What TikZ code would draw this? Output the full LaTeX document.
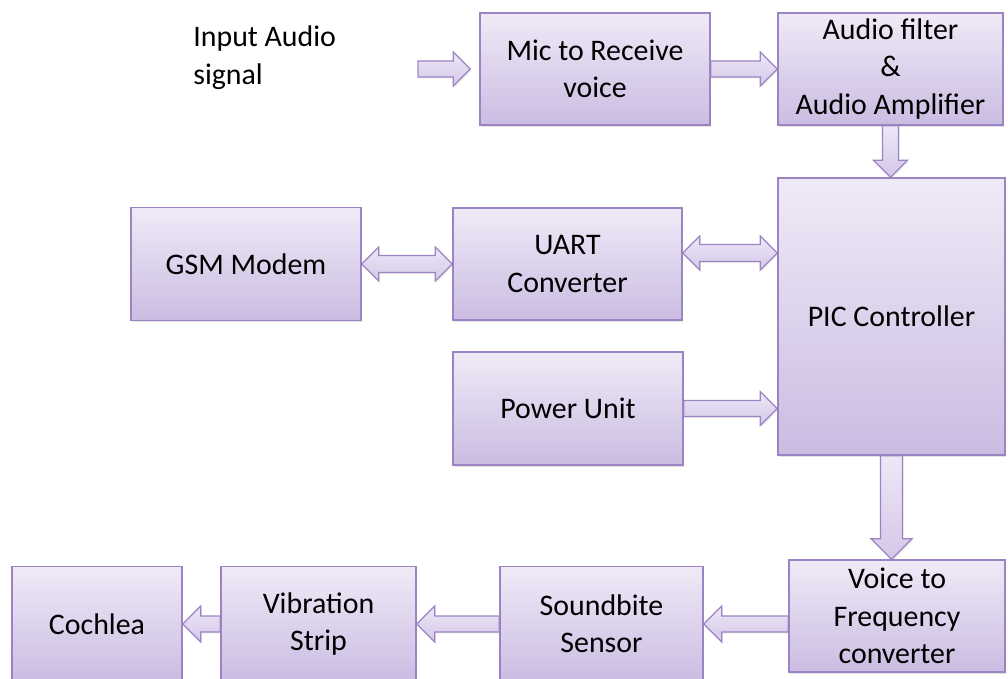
\documentclass[tikz,border=0pt]{standalone}
\usepackage{fontspec}
\setmainfont{Carlito}
\usetikzlibrary{calc,shadows}
\definecolor{boxtop}{HTML}{EFEAF7}
\definecolor{boxbot}{HTML}{CBBCE2}
\definecolor{boxline}{HTML}{9C84C4}
\definecolor{arrtop}{HTML}{EEE8F7}
\definecolor{arrbot}{HTML}{D4C7E8}
\tikzset{
  blk/.style={draw=boxline,line width=0.8pt,top color=boxtop,bottom color=boxbot,
    align=center,inner sep=2pt,font=\fontsize{17}{21.3}\selectfont,
    drop shadow={shadow xshift=0.8pt,shadow yshift=-1pt,opacity=0.22}},
  fat/.style={draw=boxline,line width=0.7pt,top color=arrtop,bottom color=arrbot,line join=miter,
    drop shadow={shadow xshift=0.7pt,shadow yshift=-0.9pt,opacity=0.15}},
  lbl/.style={font=\fontsize{17}{21.3}\selectfont,align=left,inner sep=0pt},
}
% block arrow: from, to, half shaft width, half head width (= head length)
\newcommand{\fatarrow}[4]{%
  \coordinate (fa-b) at ($(#2)!#4!(#1)$);
  \path[fat] ($(#1)!#3!90:(#2)$) -- ($(fa-b)!#3!90:(#2)$) -- ($(fa-b)!#4!90:(#2)$) -- (#2)
    -- ($(fa-b)!#4!-90:(#2)$) -- ($(fa-b)!#3!-90:(#2)$) -- ($(#1)!#3!-90:(#2)$) -- cycle;}
% block arrow with a head at both ends
\newcommand{\fatdarrow}[4]{%
  \coordinate (fa-a) at ($(#1)!#4!(#2)$);
  \coordinate (fa-b) at ($(#2)!#4!(#1)$);
  \path[fat] (#1) -- ($(fa-a)!#4!90:(#2)$) -- ($(fa-a)!#3!90:(#2)$) -- ($(fa-b)!#3!90:(#2)$)
    -- ($(fa-b)!#4!90:(#2)$) -- (#2) -- ($(fa-b)!#4!-90:(#2)$) -- ($(fa-b)!#3!-90:(#2)$)
    -- ($(fa-a)!#3!-90:(#2)$) -- ($(fa-a)!#4!-90:(#2)$) -- cycle;}
\begin{document}
\begin{tikzpicture}
    \clip (0,0) rectangle (20.16,13.56);
    % ---- top row ----
    \node[lbl,anchor=west] (inlbl) at (3.86,12.41) {Input Audio\\signal};
    \node[blk,minimum width=4.6cm,minimum height=2.24cm] (mic) at (11.9,12.18) {Mic to Receive\\voice};
    \node[blk,minimum width=4.5cm,minimum height=2.24cm] (audio) at (17.81,12.18) {Audio filter\\\&\\Audio Amplifier};
    % ---- middle ----
    \node[blk,minimum width=4.54cm,minimum height=5.54cm] (pic) at (17.83,7.23) {PIC Controller};
    \node[blk,minimum width=4.6cm,minimum height=2.26cm] (gsm) at (4.92,8.28) {GSM Modem};
    \node[blk,minimum width=4.58cm,minimum height=2.24cm] (uart) at (11.35,8.28) {UART\\Converter};
    \node[blk,minimum width=4.6cm,minimum height=2.26cm] (power) at (11.36,5.39) {Power Unit};
    % ---- bottom row ----
    \node[blk,minimum width=4.32cm,minimum height=2.24cm] (vtf) at (17.94,1.24) {Voice to\\Frequency\\converter};
    \node[blk,minimum width=4.06cm,minimum height=2.3cm] (sound) at (12.03,1.08) {Soundbite\\Sensor};
    \node[blk,minimum width=3.9cm,minimum height=2.3cm] (vib) at (6.37,1.08) {Vibration\\Strip};
    \node[blk,minimum width=3.4cm,minimum height=2.3cm] (coch) at (1.94,1.08) {Cochlea};
    % ---- connectors ----
    \coordinate (in) at (8.36,12.18);
    \coordinate (it) at ($(mic.west)+(-0.18,0)$);
    \coordinate (ap) at (audio.south |- pic.north);
    \coordinate (ua) at ($(uart.east)+(0,0.22)$);
    \coordinate (up) at (ua -| pic.west);
    \coordinate (pw) at (power.east -| pic.west);
    \coordinate (pv) at (pic.south |- vtf.north);
    \coordinate (vs) at (vtf.west |- sound.east);
    \fatarrow{in}{it}{0.16cm}{0.34cm}
    \fatarrow{mic.east}{audio.west}{0.16cm}{0.34cm}
    \fatarrow{audio.south}{ap}{0.16cm}{0.34cm}
    \fatdarrow{gsm.east}{uart.west}{0.17cm}{0.34cm}
    \fatdarrow{ua}{up}{0.17cm}{0.34cm}
    \fatarrow{power.east}{pw}{0.16cm}{0.34cm}
    \fatarrow{pic.south}{pv}{0.22cm}{0.41cm}
    \fatarrow{vs}{sound.east}{0.16cm}{0.36cm}
    \fatarrow{sound.west}{vib.east}{0.16cm}{0.36cm}
    \fatarrow{vib.west}{coch.east}{0.16cm}{0.36cm}
\end{tikzpicture}
\end{document}
